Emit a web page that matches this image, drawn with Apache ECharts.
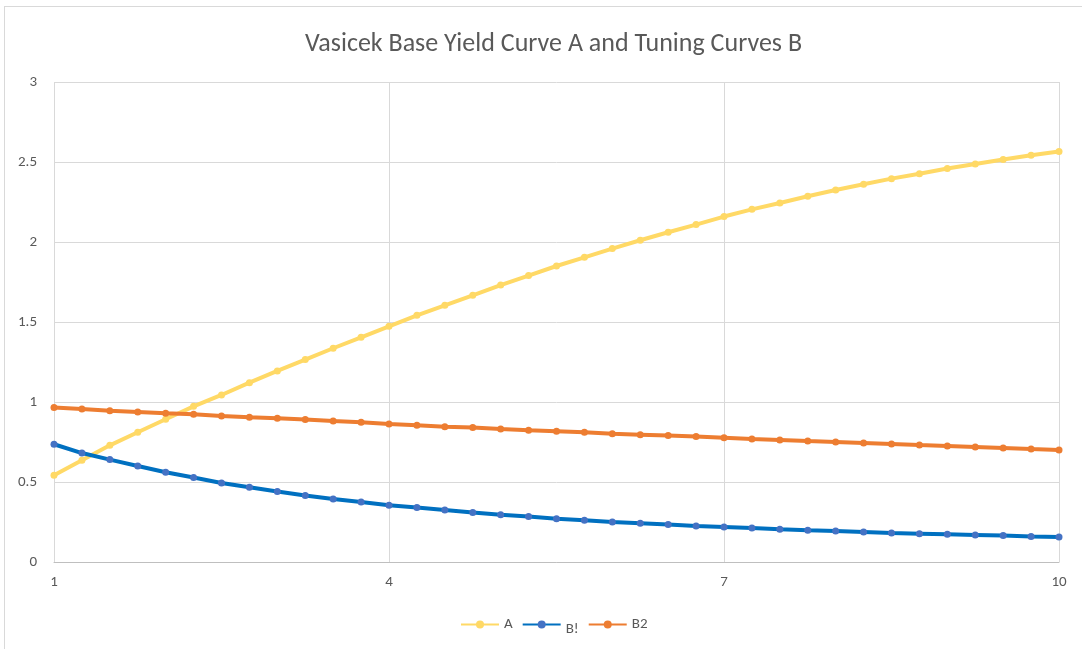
<!DOCTYPE html>
<html><head><meta charset="utf-8">
<script src="https://cdn.jsdelivr.net/npm/echarts@6/dist/echarts.min.js"></script>
<style>html,body{margin:0;padding:0;background:#fff}
#c{width:1082px;height:649px;position:absolute;left:0;top:0}
#b{position:absolute;left:4px;top:6px;width:1078px;height:643px;box-sizing:border-box;border-left:1px solid #d9d9d9;border-top:1px solid #d9d9d9;pointer-events:none}</style>
</head><body><div id="c"></div><div id="b"></div>
<script>
const tenors = [1,1.25,1.5,1.75,2,2.25,2.5,2.75,3,3.25,3.5,3.75,4,4.25,4.5,4.75,5,5.25,5.5,5.75,6,6.25,6.5,6.75,7,7.25,7.5,7.75,8,8.25,8.5,8.75,9,9.25,9.5,9.75,10];
const seriesA = [0.542,0.636,0.729,0.811,0.892,0.973,1.044,1.121,1.194,1.265,1.336,1.404,1.473,1.542,1.604,1.667,1.731,1.790,1.850,1.904,1.959,2.011,2.061,2.109,2.159,2.204,2.244,2.286,2.325,2.361,2.396,2.427,2.459,2.488,2.515,2.542,2.565];
const seriesB1 = [0.736,0.681,0.640,0.600,0.561,0.528,0.494,0.467,0.440,0.415,0.394,0.375,0.354,0.340,0.325,0.309,0.296,0.284,0.271,0.261,0.250,0.242,0.234,0.225,0.219,0.213,0.204,0.198,0.194,0.188,0.181,0.177,0.173,0.169,0.165,0.160,0.156];
const seriesB2 = [0.965,0.956,0.946,0.938,0.929,0.923,0.913,0.904,0.898,0.890,0.881,0.873,0.863,0.854,0.846,0.840,0.831,0.823,0.817,0.811,0.802,0.796,0.790,0.784,0.777,0.769,0.763,0.756,0.750,0.744,0.738,0.731,0.725,0.719,0.713,0.706,0.700];
const names = ['A','B!','B2'];
const title = 'Vasicek Base Yield Curve A and Tuning Curves B';

const pair = arr => tenors.map((t,i)=>[t,arr[i]]);
const chart = echarts.init(document.getElementById('c'));
const font = 'Calibri, Carlito, "Open Sans", sans-serif';
function mk(name, data, lineColor, dotColor){
  return {name, type:'line', data:pair(data), symbol:'circle', symbolSize:7,
    lineStyle:{width:4,color:lineColor}, itemStyle:{color:dotColor}, color:lineColor, animation:false};
}
chart.setOption({
  animation:false,
  title:{text:title,left:300,top:26,textStyle:{fontFamily:font,fontSize:26,fontWeight:'normal',color:'#595959'}},
  grid:{left:54,right:23,top:82,bottom:87,containLabel:false},
  legend:{bottom:7,left:455,itemWidth:38,itemHeight:10,itemGap:9,
    textStyle:{fontFamily:font,fontSize:15,color:'#595959',
      rich:{low:{fontFamily:font,fontSize:15,color:'#595959',padding:[10,0,0,0]}}},
    formatter: n => n === names[1] ? '{low|' + n + '}' : n,
    data:names.map(n=>({name:n}))},
  xAxis:{type:'value',min:1,max:10,interval:3,
    axisLine:{show:true,lineStyle:{color:'#bfbfbf',width:1}},
    axisTick:{show:false},
    splitLine:{show:true,lineStyle:{color:'#d9d9d9',width:1}},
    axisLabel:{fontFamily:font,fontSize:15,color:'#595959',margin:13}},
  yAxis:{type:'value',min:0,max:3,interval:0.5,
    axisLine:{show:false},axisTick:{show:false},
    splitLine:{show:true,lineStyle:{color:'#d9d9d9',width:1}},
    axisLabel:{fontFamily:font,fontSize:15,color:'#595959',margin:17}},
  series:[
    mk(names[0], seriesA, '#FFD966', '#FFD966'),
    mk(names[1], seriesB1, '#0070C0', '#4472C4'),
    mk(names[2], seriesB2, '#ED7D31', '#ED7D31')
  ]
});
</script></body></html>
